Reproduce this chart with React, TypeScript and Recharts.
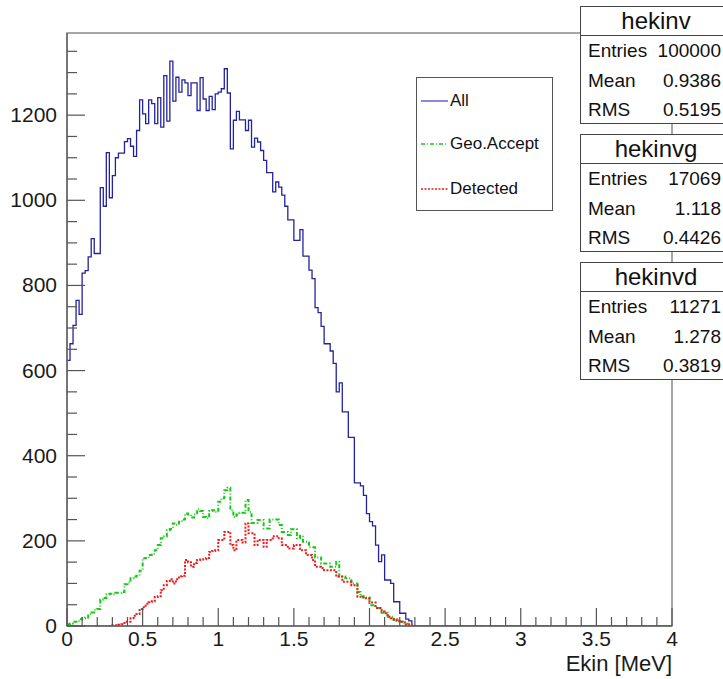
import React from "react";
import { ComposedChart, Line, XAxis, YAxis, ReferenceArea } from "recharts";

// histogram bins: 0..4 MeV, 0.02 wide, counts (bins after the list are empty)
const binWidth = 0.02;
const nBins = 200;

const allCounts = [
  624, 663, 706, 765, 732, 829, 835, 867, 910, 875,
  875, 1030, 986, 1112, 1006, 1058, 1100, 1111, 1111, 1138,
  1145, 1127, 1103, 1164, 1236, 1203, 1180, 1236, 1227, 1180,
  1241, 1172, 1293, 1186, 1327, 1233, 1289, 1254, 1283, 1276,
  1246, 1276, 1276, 1211, 1288, 1238, 1211, 1244, 1213, 1250,
  1254, 1262, 1309, 1252, 1121, 1188, 1209, 1189, 1189, 1164,
  1188, 1125, 1146, 1137, 1117, 1094, 1065, 1065, 1020, 1043,
  1031, 1012, 986, 954, 954, 906, 906, 931, 869, 869,
  836, 816, 748, 736, 704, 663, 663, 646, 617, 550,
  571, 503, 503, 443, 443, 336, 336, 329, 307, 264,
  245, 235, 190, 151, 167, 108, 108, 100, 57, 57,
  30, 30, 16, 12,
];

const geoCounts = [
  4, 6, 10, 10, 16, 18, 20, 28, 32, 38,
  40, 62, 66, 74, 76, 74, 78, 78, 80, 98,
  102, 112, 116, 118, 130, 159, 160, 167, 170, 178,
  190, 206, 210, 225, 228, 241, 238, 245, 250, 264,
  262, 255, 262, 274, 270, 256, 253, 270, 272, 268,
  292, 300, 319, 325, 272, 256, 262, 266, 266, 296,
  268, 242, 242, 249, 249, 229, 229, 250, 250, 250,
  237, 221, 221, 214, 227, 227, 206, 212, 198, 198,
  185, 185, 161, 161, 147, 147, 147, 139, 139, 151,
  116, 116, 112, 112, 100, 100, 80, 70, 67, 67,
  49, 49, 42, 42, 31, 31, 22, 22, 14, 14,
  10, 10, 5, 3,
];

const detCounts = [
  0, 0, 0, 0, 0, 0, 0, 0, 0, 0,
  0, 0, 0, 0, 0, 2, 2, 3, 4, 10,
  10, 18, 24, 28, 40, 44, 52, 56, 58, 68,
  70, 84, 96, 106, 110, 100, 110, 117, 118, 155,
  150, 139, 148, 155, 156, 157, 160, 174, 176, 178,
  202, 202, 221, 221, 190, 178, 202, 202, 196, 241,
  218, 218, 190, 202, 202, 186, 202, 202, 211, 211,
  206, 190, 190, 182, 182, 190, 190, 178, 178, 167,
  167, 155, 139, 139, 136, 131, 131, 131, 131, 116,
  116, 104, 104, 104, 96, 96, 69, 69, 65, 65,
  55, 55, 42, 42, 34, 30, 22, 18, 16, 12,
  10, 8, 3, 2,
];

const xLabels = [0, 0.5, 1, 1.5, 2, 2.5, 3, 3.5, 4];
const yLabels = [0, 200, 400, 600, 800, 1000, 1200];
const xTicks = Array.from({ length: 41 }, (_, i) => +(i * 0.1).toFixed(1));
const yTicks = Array.from({ length: 28 }, (_, i) => i * 50);
const yMax = 1393;

const stats = [
  { name: "hekinv", entries: "100000", mean: "0.9386", rms: "0.5195" },
  { name: "hekinvg", entries: "17069", mean: "1.118", rms: "0.4426" },
  { name: "hekinvd", entries: "11271", mean: "1.278", rms: "0.3819" },
];

const data = Array.from({ length: nBins + 1 }, (_, i) => ({
  e: +(i * binWidth).toFixed(2),
  all: allCounts[i] ?? 0,
  geo: geoCounts[i] ?? 0,
  det: detCounts[i] ?? 0,
}));

const FONT = "'Liberation Sans', Arial, sans-serif";
const BLUE = "#2323a0";
const GREEN = "#18c818";
const RED = "#f01c1c";

const XTick = (props: any) => {
  const { x, y, payload } = props;
  const v = payload.value;
  const major = xLabels.some((l) => Math.abs(l - v) < 1e-6);
  return (
    <g>
      <line x1={x} x2={x} y1={y} y2={y - (major ? 18 : 9)} stroke="#555" strokeWidth={1.2} />
      {major && (
        <text x={x} y={y + 20} textAnchor="middle" fontSize={21} fontFamily={FONT} fill="#1a1a1a">
          {String(v)}
        </text>
      )}
    </g>
  );
};

const YTick = (props: any) => {
  const { x, y, payload } = props;
  const v = payload.value;
  const major = yLabels.includes(v);
  return (
    <g>
      <line x1={x} x2={x + (major ? 18 : 10)} y1={y} y2={y} stroke="#555" strokeWidth={1.2} />
      {major && (
        <text x={x - 10} y={y + 7} textAnchor="end" fontSize={21} fontFamily={FONT} fill="#1a1a1a">
          {v}
        </text>
      )}
    </g>
  );
};

const AxisTitle = (props: any) => {
  const { viewBox } = props;
  if (!viewBox) return null;
  return (
    <text x={viewBox.x + viewBox.width} y={viewBox.y + 45} textAnchor="end" fontSize={22} fontFamily={FONT} fill="#1a1a1a">
      Ekin [MeV]
    </text>
  );
};

const legendItems = [
  { label: "All", color: "#6f6fc8", dash: undefined, top: 23 },
  { label: "Geo.Accept", color: GREEN, dash: "4 2 1 2", top: 66 },
  { label: "Detected", color: RED, dash: "2 1.5", top: 111 },
];

const StatBox = ({ s, top }: { s: (typeof stats)[0]; top: number }) => {
  const row = (label: string, value: string, y: number) => (
    <div style={{ position: "absolute", left: 0, top: y, width: "100%", height: 30, lineHeight: "30px" }}>
      <span style={{ position: "absolute", left: 7 }}>{label}</span>
      <span style={{ position: "absolute", right: 10 }}>{value}</span>
    </div>
  );
  return (
    <div
      style={{
        position: "absolute",
        left: 580,
        top,
        width: 152,
        height: 118,
        border: "1.5px solid #444",
        background: "#fff",
        boxSizing: "border-box",
        fontFamily: FONT,
        fontSize: 19,
        color: "#111",
      }}
    >
      <div style={{ height: 28, lineHeight: "28px", textAlign: "center", fontSize: 24, borderBottom: "1.5px solid #444" }}>
        {s.name}
      </div>
      {row("Entries", s.entries, 29)}
      {row("Mean", s.mean, 59)}
      {row("RMS", s.rms, 88)}
    </div>
  );
};

export default function App() {
  return (
    <div style={{ position: "absolute", left: 0, top: 0, width: 723, height: 679, overflow: "hidden", background: "#fff" }}>
      <ComposedChart width={723} height={679} data={data} margin={{ top: 33, right: 51, bottom: 0, left: 0 }}>
        <XAxis
          dataKey="e"
          type="number"
          domain={[0, 4]}
          ticks={xTicks}
          interval={0}
          height={53}
          tickSize={0}
          tickMargin={0}
          tick={<XTick />}
          axisLine={{ stroke: "#666", strokeWidth: 1.5 }}
          label={<AxisTitle />}
          allowDataOverflow
        />
        <YAxis
          type="number"
          domain={[0, yMax]}
          ticks={yTicks}
          interval={0}
          width={67}
          tickSize={0}
          tickMargin={0}
          tick={<YTick />}
          axisLine={{ stroke: "#666", strokeWidth: 1.5 }}
          allowDataOverflow
        />
        <ReferenceArea x1={0} x2={4} y1={0} y2={yMax} fill="none" stroke="#8a8a8a" strokeWidth={1.5} />
        <Line dataKey="all" type="stepAfter" stroke={BLUE} strokeWidth={1.3} dot={false} isAnimationActive={false} />
        <Line dataKey="geo" type="stepAfter" stroke={GREEN} strokeWidth={2} strokeDasharray="4 2 1 2" dot={false} isAnimationActive={false} />
        <Line dataKey="det" type="stepAfter" stroke={RED} strokeWidth={2} strokeDasharray="2 1.5" dot={false} isAnimationActive={false} />
      </ComposedChart>

      <div
        style={{
          position: "absolute",
          left: 416,
          top: 77,
          width: 137,
          height: 134,
          border: "1.3px solid #555",
          boxSizing: "border-box",
          background: "#fff",
          fontFamily: FONT,
          fontSize: 17,
          color: "#111",
        }}
      >
        {legendItems.map((it) => (
          <div key={it.label} style={{ position: "absolute", left: 0, top: it.top - 10, height: 20, width: "100%" }}>
            <svg width={32} height={20} style={{ position: "absolute", left: 3, top: 0 }}>
              <line x1={1} x2={28} y1={10} y2={10} stroke={it.color} strokeWidth={1.6} strokeDasharray={it.dash} />
            </svg>
            <span style={{ position: "absolute", left: 33, top: 0, lineHeight: "20px" }}>{it.label}</span>
          </div>
        ))}
      </div>

      {stats.map((s, i) => (
        <StatBox key={s.name} s={s} top={[6, 134, 262][i]} />
      ))}
    </div>
  );
}
